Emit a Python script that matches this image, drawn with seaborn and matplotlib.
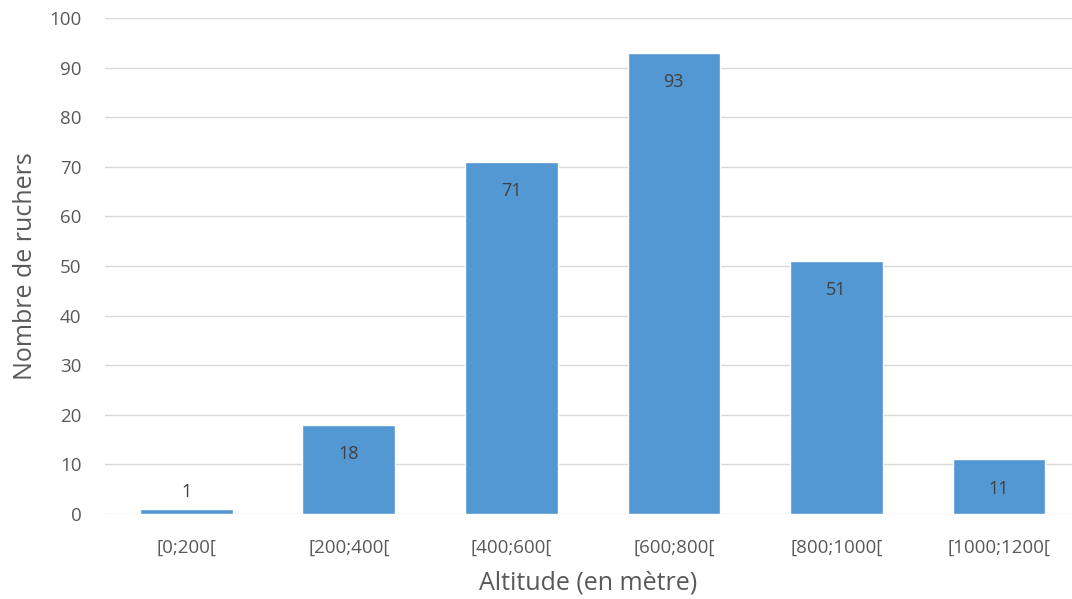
import pandas as pd
import numpy as np
import matplotlib.pyplot as plt
import seaborn as sb

# Data
categories = ['[0;200[', '[200;400[', '[400;600[', '[600;800[', '[800;1000[', '[1000;1200[']
counts = [1, 18, 71, 93, 51, 11]
yticks = list(range(0, 101, 10))

df = pd.DataFrame({'Altitude': categories, 'Ruchers': counts})

sb.set_style('white')
plt.rcParams['font.family'] = ['Open Sans', 'DejaVu Sans']

text_col = '#595959'
bar_col = '#5397D3'

fig = plt.figure(figsize=(10.72, 5.99), dpi=100)
ax = fig.add_axes([105/1072, 1 - 514/599, 967/1072, (514 - 18)/599])

sb.barplot(data=df, x='Altitude', y='Ruchers', color=bar_col, saturation=1,
           width=0.57, ax=ax, zorder=2)

ax.set_ylim(0, 100)
ax.set_xlim(-0.5, 5.45)
ax.set_yticks(yticks)
ax.yaxis.grid(True, color='#D9D9D9', linewidth=1, zorder=0)
ax.set_axisbelow(True)
for s in ax.spines.values():
    s.set_visible(False)
ax.tick_params(axis='both', length=0, colors=text_col, labelsize=13.5)
ax.tick_params(axis='x', pad=18)
ax.tick_params(axis='y', pad=17)

# value labels: inside end, or just above for tiny bars
for i, v in enumerate(counts):
    if v < 5:
        ax.annotate(str(v), (i, v), xytext=(0, 12), textcoords='offset points',
                    ha='center', va='center', color='#404040', fontsize=13)
    else:
        ax.annotate(str(v), (i, v), xytext=(0, -21), textcoords='offset points',
                    ha='center', va='center', color='#404040', fontsize=13)

ax.set_xlabel('Altitude (en mètre)', color=text_col, fontsize=18, labelpad=10)
ax.set_ylabel('Nombre de ruchers', color=text_col, fontsize=18, labelpad=8)

fig.savefig('out.png', dpi=100)
